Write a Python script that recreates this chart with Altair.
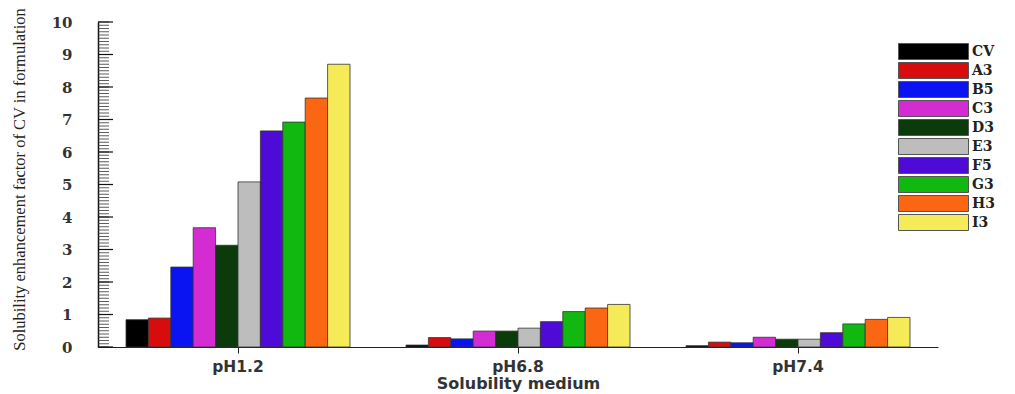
import altair as alt
import pandas as pd

# Solubility media (x groups) and formulations (bars within each group)
media = ["pH1.2", "pH6.8", "pH7.4"]
formulations = ["CV", "A3", "B5", "C3", "D3", "E3", "F5", "G3", "H3", "I3"]

# Solubility enhancement factor per formulation, one list per medium
ph12 = [0.84, 0.89, 2.46, 3.67, 3.13, 5.08, 6.65, 6.92, 7.66, 8.70]
ph68 = [0.06, 0.29, 0.25, 0.49, 0.49, 0.58, 0.78, 1.09, 1.20, 1.31]
ph74 = [0.04, 0.15, 0.13, 0.30, 0.24, 0.24, 0.44, 0.71, 0.85, 0.91]

bar_colors = ["#000000", "#d80c0c", "#0a14f2", "#d22cd2", "#0b3a0b",
              "#bdbdbd", "#4e0ad6", "#10b810", "#fb6612", "#f5ea58"]

y_ticks = list(range(0, 11))
y_minor = [i / 10 for i in range(0, 101)]

rows = []
for medium, values in zip(media, [ph12, ph68, ph74]):
    for name, v in zip(formulations, values):
        rows.append({"medium": medium, "formulation": name, "factor": v})
df = pd.DataFrame(rows)

y_scale = alt.Scale(domain=[0, 10], nice=False)
y_axis = alt.Axis(
    title="Solubility enhancement factor of CV in formulation",
    values=y_ticks,
    ticks=False,
    grid=False,
    labelFont="DejaVu Serif",
    labelFontWeight="bold",
    labelFontSize=15,
    labelColor="#333333",
    labelPadding=26,
    domainColor="#111111",
    domainWidth=1.5,
    titleFont="Liberation Serif",
    titleFontWeight="normal",
    titleFontSize=16.5,
    titleColor="#222222",
    titleX=-71,
    titleY=157,
)

bars = alt.Chart(df).mark_bar(stroke="#333333", strokeWidth=0.8).encode(
    x=alt.X(
        "medium:N",
        sort=media,
        scale=alt.Scale(paddingInner=0.2, paddingOuter=0.1),
        axis=alt.Axis(
            title="Solubility medium",
            labelAngle=0,
            labelFont="DejaVu Sans",
            labelFontWeight="bold",
            labelFontSize=15.5,
            labelColor="#333333",
            labelPadding=6,
            tickSize=6,
            tickColor="#222222",
            domainColor="#222222",
            domainWidth=1.2,
            titleFont="DejaVu Sans",
            titleFontWeight="bold",
            titleFontSize=16,
            titleColor="#333333",
            titlePadding=1,
        ),
    ),
    xOffset=alt.XOffset("formulation:N", sort=formulations,
                        scale=alt.Scale(domain=formulations, paddingInner=0, paddingOuter=0)),
    y=alt.Y("factor:Q", scale=y_scale, axis=y_axis),
    color=alt.Color(
        "formulation:N",
        sort=formulations,
        scale=alt.Scale(domain=formulations, range=bar_colors),
        legend=alt.Legend(
            title=None,
            orient="none",
            legendX=827,
            legendY=21,
            symbolType="M-4.375,-1H4.375V1H-4.375Z",
            symbolSize=256,
            symbolStrokeColor="#555555",
            symbolStrokeWidth=1,
            labelOffset=30,
            rowPadding=-3,
            labelFont="DejaVu Serif",
            labelFontWeight="bold",
            labelFontSize=14,
            labelColor="#222222",
        ),
    ),
)

# Inward-facing tick marks along the value axis
minor = alt.Chart(pd.DataFrame({"factor": y_minor})).mark_rule(
    color="#333333", strokeWidth=0.8
).encode(y=alt.Y("factor:Q", scale=y_scale, axis=y_axis), x=alt.value(0), x2=alt.value(11))

major = alt.Chart(pd.DataFrame({"factor": y_ticks})).mark_rule(
    color="#111111", strokeWidth=1.2
).encode(y=alt.Y("factor:Q", scale=y_scale, axis=y_axis), x=alt.value(0), x2=alt.value(15))

chart = alt.layer(bars, minor, major).properties(
    width=840,
    height=325,
    padding={"left": 98, "top": 22, "right": 77, "bottom": 47},
    autosize=alt.AutoSizeParams(type="none"),
).configure(background="white").configure_view(strokeWidth=0, stroke="transparent")

chart.save("out.html", embed_options={"renderer": "svg", "actions": False})
